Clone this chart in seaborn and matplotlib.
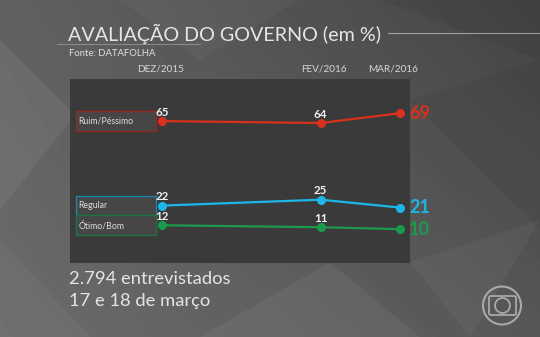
import numpy as np
import pandas as pd
import matplotlib
matplotlib.use("Agg")
import matplotlib.pyplot as plt
import matplotlib.transforms as mtransforms
from matplotlib.patches import Rectangle, Circle, Polygon, FancyBboxPatch
import seaborn as sns

# ---------------- data ----------------
periods = ["DEZ/2015", "FEV/2016", "MAR/2016"]
month_pos = [0, 2, 3]            # months since Dec/2015
series = ["Ruim/Péssimo", "Regular", "Ótimo/Bom"]
ruim_pessimo = [65, 64, 69]
regular = [22, 25, 21]
otimo_bom = [12, 11, 10]
title = "AVALIAÇÃO DO GOVERNO (em %)"
source = "Fonte: DATAFOLHA"
footer = ["2.794 entrevistados", "17 e 18 de março"]

line_colors = {"Ruim/Péssimo": "#d8311d", "Regular": "#1cb7e8", "Ótimo/Bom": "#1b9a4c"}
box_edges = {"Ruim/Péssimo": "#8e2a20", "Regular": "#1a86a8", "Ótimo/Bom": "#1c7444"}

values = {"Ruim/Péssimo": ruim_pessimo, "Regular": regular, "Ótimo/Bom": otimo_bom}
df = pd.DataFrame(
    [(s, month_pos[i], values[s][i]) for s in series for i in range(len(periods))],
    columns=["serie", "pos", "value"],
)

# ---------------- style ----------------
sns.set_theme(style="dark")
plt.rcParams["font.family"] = ["Lato", "DejaVu Sans"]

W, H = 540, 337
fig = plt.figure(figsize=(W / 100, H / 100), dpi=100)

# background
bg = fig.add_axes([0, 0, 1, 1], zorder=0)
bg.set_xlim(0, W)
bg.set_ylim(H, 0)
bg.axis("off")
yy, xx = np.mgrid[0:H, 0:W]
grad = 0.30 + 0.08 * (1 - xx / W) + 0.04 * (yy / H) - 0.03 * (xx / W) * (1 - yy / H)
bg.imshow(grad, cmap="gray", vmin=0, vmax=1, extent=[0, W, H, 0], aspect="auto", zorder=0)
facets = [
    ([(0, 40), (75, 115), (0, 210)], "white", 0.06),
    ([(0, 240), (90, 337), (0, 337)], "white", 0.04),
    ([(200, 337), (330, 262), (420, 337)], "white", 0.05),
    ([(410, 100), (540, 60), (540, 230)], "black", 0.05),
    ([(410, 262), (540, 220), (470, 337)], "white", 0.04),
    ([(120, 0), (300, 0), (200, 60)], "white", 0.03),
    ([(380, 0), (540, 0), (540, 60)], "black", 0.06),
]
for pts, c, a in facets:
    bg.add_patch(Polygon(pts, closed=True, fc=c, ec="none", alpha=a, zorder=1))

# title decorations
bg.plot([57, 200], [44, 44], color="#cfcfcf", lw=0.6, alpha=0.5, zorder=2)
bg.plot([388, 540], [33, 33], color="#d8d8d8", lw=0.8, alpha=0.6, zorder=2)

bg.text(68, 34, title, fontsize=14.2, fontweight="normal", color="#e6e6e6",
        ha="left", va="center", zorder=3)
bg.text(69, 54, source, fontsize=6.8, color="#e0e0e0", ha="left", va="center", zorder=3)
bg.text(69, 279, footer[0], fontsize=13.2, fontweight="normal", color="#e4e4e4",
        ha="left", va="center", zorder=3)
bg.text(69, 301, footer[1], fontsize=13.2, fontweight="normal", color="#e4e4e4",
        ha="left", va="center", zorder=3)

# globo logo
bg.add_patch(Circle((502, 305.5), 19, fill=False, ec="#a9a9a9", lw=1.5, zorder=3))
bg.add_patch(FancyBboxPatch((489, 296), 27, 19, boxstyle="round,pad=0,rounding_size=2",
                            fill=False, ec="#a9a9a9", lw=1.3, zorder=3))
bg.add_patch(Circle((502.5, 305.5), 7.5, fill=False, ec="#a9a9a9", lw=1.3, zorder=3))

# ---------------- chart panel ----------------
px_l, px_r, px_t, px_b = 70, 410, 79, 263
ax = fig.add_axes([px_l / W, 1 - px_b / H, (px_r - px_l) / W, (px_b - px_t) / H], zorder=1)
ax.set_facecolor("#3a3a3a")

sns.lineplot(data=df, x="pos", y="value", hue="serie", hue_order=series,
             palette=line_colors, marker="o", markersize=6.5, markeredgewidth=0,
             linewidth=1.6, legend=False, ax=ax)
for ln in ax.lines:
    ln.set_clip_on(False)
    ln.set_zorder(5)

ylo, yhi = -7.2, 86.4
ax.set_xlim(-1.160, 3.126)
ax.set_ylim(ylo, yhi)
ax.set_xticks([])
ax.set_yticks([])
ax.set_xlabel("")
ax.set_ylabel("")
for sp in ax.spines.values():
    sp.set_visible(False)

# period labels above the panel
top_tr = mtransforms.blended_transform_factory(ax.transData, ax.transAxes)
period_dx = [-1.5, 3, -7]
for p, x, dx in zip(periods, month_pos, period_dx):
    ax.annotate(p, (x, 1), xycoords=top_tr, xytext=(dx, 10), textcoords="offset pixels",
                ha="center", va="center", fontsize=7.2, color="#d6d6d6",
                annotation_clip=False)

# value labels
for s in series:
    v = values[s]
    for i in range(len(v) - 1):
        ax.annotate(str(v[i]), (month_pos[i], v[i]), xytext=(0, 9), textcoords="offset pixels",
                    ha="center", va="center", fontsize=8.3, fontweight="bold",
                    color="#f2f2f2", annotation_clip=False, zorder=6)
    ax.annotate(str(v[-1]), (month_pos[-1], v[-1]), xytext=(9, 0), textcoords="offset pixels",
                ha="left", va="center", fontsize=13, fontweight="bold",
                color=line_colors[s], annotation_clip=False, zorder=6)

# series label boxes, centred on each series' first value
box_tr = mtransforms.blended_transform_factory(ax.transAxes, ax.transData)
px_per_unit = (px_b - px_t) / (yhi - ylo)
box_h = 20 / px_per_unit
bx0 = (76 - px_l) / (px_r - px_l)
bw = (155.5 - 76) / (px_r - px_l)
for s in series:
    y0 = values[s][0]
    ax.add_patch(Rectangle((bx0, y0 - box_h / 2), bw, box_h, transform=box_tr,
                           fc="#464646", ec=box_edges[s], lw=1.0, clip_on=False, zorder=3))
    ax.text(bx0 + 2.5 / (px_r - px_l), y0, s, transform=box_tr, fontsize=6.3,
            color="#dddddd", ha="left", va="center", zorder=4)

fig.savefig("out.png", dpi=100)
